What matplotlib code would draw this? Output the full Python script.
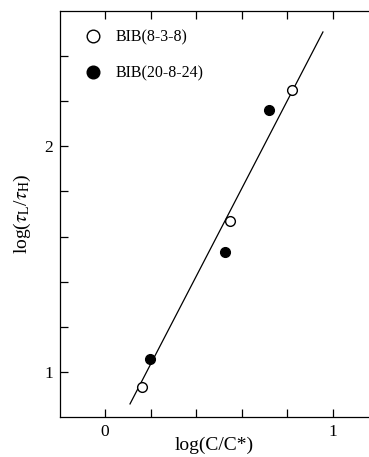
import numpy as np
import matplotlib
matplotlib.use('Agg')
import matplotlib.pyplot as plt

plt.rcParams['font.family'] = ['Liberation Serif', 'DejaVu Serif']
plt.rcParams['mathtext.fontset'] = 'stix'

# data
x_open = [0.162, 0.548, 0.82]
y_open = [0.933, 1.667, 2.249]
x_filled = [0.197, 0.526, 0.72]
y_filled = [1.058, 1.533, 2.16]
fit_x = [0.11, 0.956]
fit_y = [0.858, 2.507]

fig = plt.figure(figsize=(3.69, 4.57), dpi=100)
ax = fig.add_axes([60 / 369, 40 / 457, 309 / 369, 406 / 457])

ax.plot(fit_x, fit_y, color='black', lw=0.9)
ax.plot(x_open, y_open, 'o', mfc='white', mec='black', mew=1.0, ms=7,
        label='BIB(8-3-8)')
ax.plot(x_filled, y_filled, 'o', mfc='black', mec='black', ms=7,
        label='BIB(20-8-24)')

ax.set_xlim(-0.197, 1.158)
ax.set_ylim(0.8, 2.6)
ax.set_xticks(np.arange(0, 1.01, 0.2))
ax.set_xticklabels(['0', '', '', '', '', '1'])
ax.set_yticks(np.arange(1.0, 2.41, 0.2))
ax.set_yticklabels(['1', '', '', '', '', '2', '', ''])
ax.tick_params(direction='in', length=6, width=0.9, top=True, right=False,
               labelsize=12.5, pad=5)
ax.spines['right'].set_visible(False)
for s in ['left', 'top', 'bottom']:
    ax.spines[s].set_linewidth(0.9)

ax.set_xlabel('log(C/C*)', fontsize=14, labelpad=-2)
ax.set_ylabel(r'log($\tau_{\rm L}$/$\tau_{\rm H}$)', fontsize=14, labelpad=8)

leg = ax.legend(loc='upper left', bbox_to_anchor=(0.06, 0.971), borderaxespad=0,
                frameon=False, fontsize=11.5, markerscale=1.3,
                handlelength=1.0, handletextpad=0.94, labelspacing=1.25)

fig.savefig('out.png', dpi=100)
